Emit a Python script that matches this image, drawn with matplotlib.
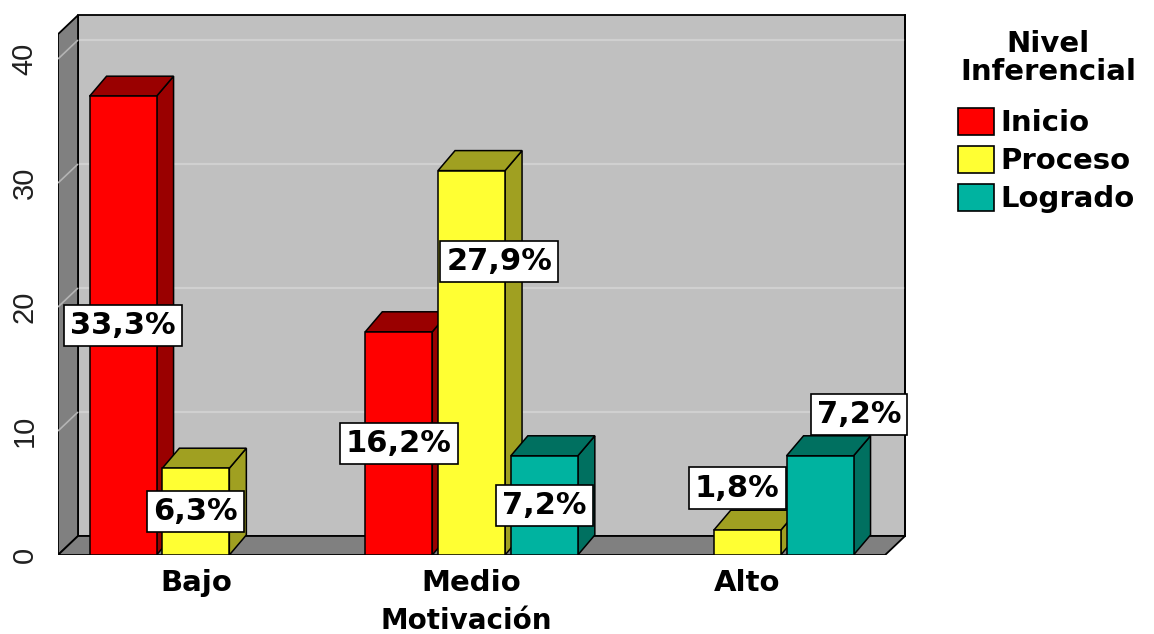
import matplotlib.pyplot as plt
from matplotlib.patches import Polygon, Rectangle, Patch
from matplotlib.transforms import blended_transform_factory

plt.rcParams["font.family"] = ["DejaVu Sans"]

# counts per motivation level (n = 111)
categories = ["Bajo", "Medio", "Alto"]
series = ["Inicio", "Proceso", "Logrado"]
inicio = [37, 18, 0]
proceso = [7, 31, 2]
logrado = [0, 8, 8]
total = 111
yticks = [0, 10, 20, 30, 40]

face_colors = ["#ff0000", "#ffff33", "#00b3a0"]
shade_colors = ["#9a0000", "#a0a021", "#007060"]

# where each value label sits: height on the value axis and sideways shift
label_y = [[18.5, 9.0, None], [3.5, 23.7, 5.4], [None, 4.0, 11.3]]
label_dx = [[0.0, 0.0, 0.0], [0.0, 0.10, -0.037], [0.0, 0.0, 0.141]]

W, H, DPI = 1154, 634, 100
X_PX, Y_PX = 275.7, 12.4          # pixels per unit on each axis
x0, x1, ytop = -0.5, 2.5, 42.0
wdx, wdy = 20 / X_PX, 19 / Y_PX   # wall depth
bdx, bdy = 17 / X_PX, 20 / Y_PX   # bar depth
bar_w, step = 0.243, 0.264
ax_w, ax_h = 852, 543

fig = plt.figure(figsize=(W / DPI, H / DPI), dpi=DPI)
ax = fig.add_axes([58 / W, 79 / H, ax_w / W, ax_h / H])
ax.set_xlim(x0, x0 + ax_w / X_PX)
ax.set_ylim(0, ax_h / Y_PX)
for s in ax.spines.values():
    s.set_visible(False)

# walls and floor
back = Polygon([(x0 + wdx, wdy), (x1 + wdx, wdy), (x1 + wdx, ytop + wdy), (x0 + wdx, ytop + wdy)],
               fc="#c0c0c0", ec="black", lw=1.3, zorder=0)
left = Polygon([(x0, 0), (x0 + wdx, wdy), (x0 + wdx, ytop + wdy), (x0, ytop)],
               fc="#808080", ec="black", lw=1.3, zorder=0.2)
floor = Polygon([(x0, 0), (x1, 0), (x1 + wdx, wdy), (x0 + wdx, wdy)],
                fc="#808080", ec="black", lw=1.3, zorder=0.2)
for p in (back, left, floor):
    ax.add_patch(p)

for v in yticks[1:]:
    ax.plot([x0 + wdx, x1 + wdx], [v + wdy, v + wdy], color="#d0d0d0", lw=1.6,
            solid_capstyle="butt", zorder=0.1)
    ax.plot([x0, x0 + wdx], [v, v + wdy], color="#b4b4b4", lw=1.2,
            solid_capstyle="butt", zorder=0.3)
ax.plot([x1 + wdx, x1 + wdx], [wdy, ytop + wdy], color="black", lw=1.3, zorder=0.15)


def bar3d(xc, h, face, shade, z):
    xl, xr = xc - bar_w / 2, xc + bar_w / 2
    side = Polygon([(xr, 0), (xr + bdx, bdy), (xr + bdx, h + bdy), (xr, h)],
                   fc=shade, ec="black", lw=1.1, zorder=z)
    top = Polygon([(xl, h), (xr, h), (xr + bdx, h + bdy), (xl + bdx, h + bdy)],
                  fc=shade, ec="black", lw=1.1, zorder=z)
    front = Rectangle((xl, 0), bar_w, h, fc=face, ec="black", lw=1.1, zorder=z + 0.1)
    for p in (side, top, front):
        ax.add_patch(p)


values = [inicio, proceso, logrado]
z = 2
for ci in range(len(categories)):
    for si in range(len(series)):
        v = values[si][ci]
        if v <= 0:
            continue
        xc = ci + (si - 1) * step
        bar3d(xc, v, face_colors[si], shade_colors[si], z)
        z += 0.5

for ci in range(len(categories)):
    for si in range(len(series)):
        v = values[si][ci]
        if v <= 0:
            continue
        xc = ci + (si - 1) * step
        txt = f"{v / total * 100:.1f}%".replace(".", ",")
        ax.text(xc + label_dx[si][ci], label_y[si][ci], txt, ha="center", va="center",
                fontsize=22, fontweight="bold", zorder=20,
                bbox=dict(boxstyle="square,pad=0.2", fc="white", ec="black", lw=1.2))

ax.set_yticks(yticks)
ax.set_yticklabels([str(t) for t in yticks], rotation=90, va="center",
                   fontsize=21, family="Liberation Sans", color="#202020")
ax.set_xticks(range(len(categories)))
ax.set_xticklabels(categories, fontsize=21, fontweight="bold")
ax.tick_params(axis="y", length=0, pad=14)
ax.tick_params(axis="x", length=0, pad=10)

trans = blended_transform_factory(ax.transData, ax.transAxes)
ax.text(0.98, -66 / ax_h, "Motivación", transform=trans, ha="center", va="center",
        fontsize=20, fontweight="bold")

fig.text(1048 / W, 1 - 58 / H, "Nivel\nInferencial", ha="center", va="center",
         multialignment="center", fontsize=21, fontweight="bold", linespacing=1.0)

handles = [Patch(fc=c, ec="black", lw=1.2) for c in face_colors]
leg = fig.legend(handles, series, loc="upper left", bbox_to_anchor=(958 / W, 1 - 108 / H),
                 frameon=False, fontsize=21,
                 handlelength=1.24, handleheight=1.03, handletextpad=0.2,
                 labelspacing=0.3, borderpad=0, borderaxespad=0)
for t in leg.get_texts():
    t.set_fontweight("bold")

fig.savefig("out.png", dpi=DPI)
